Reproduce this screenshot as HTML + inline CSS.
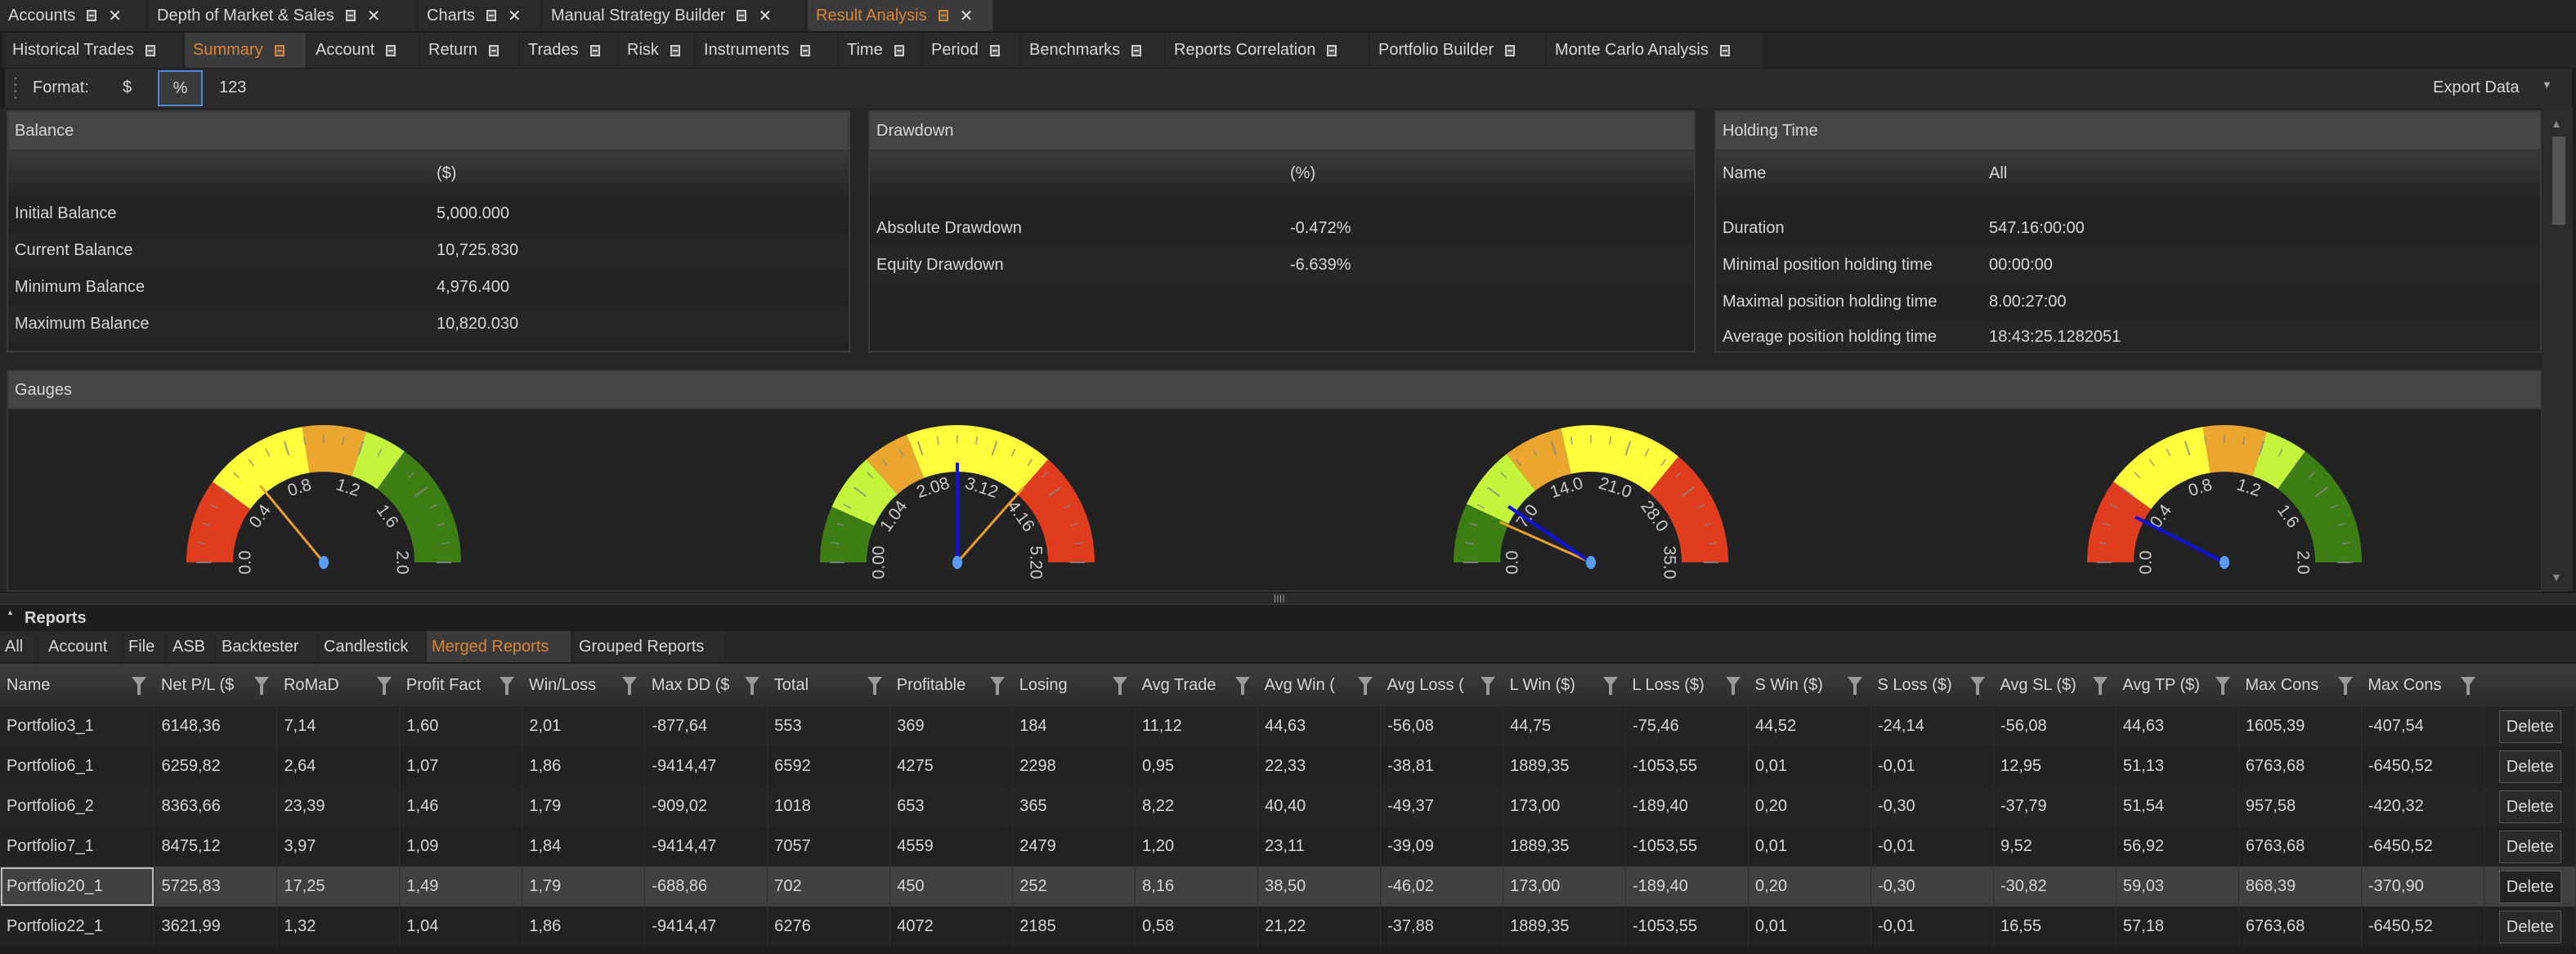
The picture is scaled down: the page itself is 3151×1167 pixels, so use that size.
<!DOCTYPE html>
<html><head><meta charset="utf-8">
<style>
*{box-sizing:border-box;margin:0;padding:0}
body{width:3151px;height:1167px;background:#1c1c1c;font-family:"Liberation Sans",sans-serif;font-size:20px;color:#d6d6d6;position:relative;overflow:hidden}
.a{position:absolute;white-space:nowrap}
.tab{position:absolute;height:100%;background:#2a2a2a;padding-left:10px;display:flex;align-items:center;gap:14px}
.ic{display:inline-block;width:12px;height:14px;border:2px solid #ccc;background:#555;position:relative}
.ic:after{content:"";position:absolute;left:1px;right:1px;top:4px;height:2px;background:#ccc}
.x{font-size:20px;color:#ddd}
.or{color:#d9852f}
.or .ic{border-color:#d9852f}
.or .ic:after{background:#d9852f}
.pan{position:absolute;background:#222;border:2px solid #3a3a3a}
.ph{position:absolute;left:0;right:0;top:0;height:48px;background:#454545;border-bottom:2px solid #333;padding-left:8px;line-height:46px}
.pc{position:absolute;left:0;right:0;top:48px;height:56px;background:linear-gradient(#3a3a3a,#252525)}
.row{position:absolute;left:0;right:0;height:45px;line-height:45px;padding-left:8px}
table{position:absolute;left:0;top:812px;border-collapse:collapse;table-layout:fixed}
td{height:49px;padding-left:8px;border-right:1px solid #2e2e2e;white-space:nowrap;overflow:hidden}
td.d{padding-left:18px}
tr.h td{height:52px;background:linear-gradient(#3d3d3d,#2c2c2c);border-right:none;position:relative}
tr.h td span.f{position:absolute;right:10px;top:16px;width:0;height:0;border-left:9px solid transparent;border-right:9px solid transparent;border-top:12px solid #999}
tr.h td span.f:after{content:"";position:absolute;left:-2px;top:-2px;width:4px;height:12px;background:#999}
tr.r0 td{background:#242424}
tr.r1 td{background:#212121}
tr.sel td{background:#414141}
.del{display:inline-block;width:76px;height:40px;border:1px solid #555;background:#2a2a2a;text-align:center;line-height:38px;color:#ddd}
</style></head><body>
<div class="a" style="left:0;top:0;width:3151px;height:38px;background:#252525">
<div class="tab" style="left:0;width:178px">Accounts <span class="ic"></span><span class="x">✕</span></div>
<div class="tab" style="left:182px;width:326px">Depth of Market &amp; Sales <span class="ic"></span><span class="x">✕</span></div>
<div class="tab" style="left:512px;width:148px">Charts <span class="ic"></span><span class="x">✕</span></div>
<div class="tab" style="left:664px;width:320px">Manual Strategy Builder <span class="ic"></span><span class="x">✕</span></div>
<div class="tab or" style="left:988px;width:226px;background:#3b3b3b">Result Analysis <span class="ic"></span><span class="x">✕</span></div>
</div>
<div class="a" style="left:2px;top:40px;width:3149px;height:43px;background:#242424">
<div class="tab" style="left:3px;width:218px">Historical Trades <span class="ic"></span></div>
<div class="tab or" style="left:224px;width:148px;background:#3b3b3b">Summary <span class="ic"></span></div>
<div class="tab" style="left:374px;width:136px">Account <span class="ic"></span></div>
<div class="tab" style="left:512px;width:120px">Return <span class="ic"></span></div>
<div class="tab" style="left:634px;width:119px">Trades <span class="ic"></span></div>
<div class="tab" style="left:755px;width:92px">Risk <span class="ic"></span></div>
<div class="tab" style="left:849px;width:173px">Instruments <span class="ic"></span></div>
<div class="tab" style="left:1024px;width:101px">Time <span class="ic"></span></div>
<div class="tab" style="left:1127px;width:118px">Period <span class="ic"></span></div>
<div class="tab" style="left:1247px;width:175px">Benchmarks <span class="ic"></span></div>
<div class="tab" style="left:1424px;width:248px">Reports Correlation <span class="ic"></span></div>
<div class="tab" style="left:1674px;width:214px">Portfolio Builder <span class="ic"></span></div>
<div class="tab" style="left:1890px;width:264px">Monte Carlo Analysis <span class="ic"></span></div>
</div>
<div class="a" style="left:6px;top:84px;width:3140px;height:48px;background:#2b2b2b"></div>
<div class="a" style="left:16px;top:92px;color:#aaa;font-size:16px;line-height:8px">·<br>·<br>·<br>·</div>
<div class="a" style="left:40px;top:96px">Format:</div>
<div class="a" style="left:150px;top:96px">$</div>
<div class="a" style="left:193px;top:86px;width:55px;height:44px;border:2px solid #4f86e0;background:#3a3a3a;text-align:center;line-height:40px">%</div>
<div class="a" style="left:268px;top:96px">123</div>
<div class="a" style="left:2976px;top:96px">Export Data</div>
<div class="a" style="left:3109px;top:96px;font-size:13px;color:#aaa">▼</div>
<div class="a" style="left:0;top:132px;width:3112px;height:592px;background:#262626"></div>
<div class="pan" style="left:8px;top:135px;width:1032px;height:296px">
<div class="ph">Balance</div><div class="pc"></div>
<div class="a" style="left:524px;top:64px">($)</div>
<div class="row" style="top:102px">Initial Balance<span class="a" style="left:524px">5,000.000</span></div>
<div class="row" style="top:147px;background:#262626">Current Balance<span class="a" style="left:524px">10,725.830</span></div>
<div class="row" style="top:192px">Minimum Balance<span class="a" style="left:524px">4,976.400</span></div>
<div class="row" style="top:237px;background:#262626">Maximum Balance<span class="a" style="left:524px">10,820.030</span></div>
</div>
<div class="pan" style="left:1062px;top:135px;width:1012px;height:296px">
<div class="ph">Drawdown</div><div class="pc"></div>
<div class="a" style="left:514px;top:64px">(%)</div>
<div class="row" style="top:120px">Absolute Drawdown<span class="a" style="left:514px">-0.472%</span></div>
<div class="row" style="top:165px;background:#262626">Equity Drawdown<span class="a" style="left:514px">-6.639%</span></div>
</div>
<div class="pan" style="left:2097px;top:135px;width:1012px;height:296px">
<div class="ph">Holding Time</div><div class="pc"></div>
<div class="a" style="left:8px;top:64px">Name</div><div class="a" style="left:334px;top:64px">All</div>
<div class="row" style="top:120px">Duration<span class="a" style="left:334px">547.16:00:00</span></div>
<div class="row" style="top:165px;background:#262626">Minimal position holding time<span class="a" style="left:334px">00:00:00</span></div>
<div class="row" style="top:210px">Maximal position holding time<span class="a" style="left:334px">8.00:27:00</span></div>
<div class="row" style="top:255px;background:#262626;height:38px;line-height:40px">Average position holding time<span class="a" style="left:334px">18:43:25.1282051</span></div>
</div>
<div class="a" style="left:3111px;top:132px;width:36px;height:592px;background:#2c2c2c"></div>
<div class="a" style="left:3120px;top:143px;font-size:14px;color:#888">▲</div>
<div class="a" style="left:3122px;top:167px;width:16px;height:108px;background:#555"></div>
<div class="a" style="left:3120px;top:698px;font-size:14px;color:#888">▼</div>
<div class="pan" style="left:8px;top:452px;width:3102px;height:272px;border-color:#333">
<div class="ph" style="height:47px">Gauges</div>
</div>
<svg class="a" style="left:0;top:0" width="3151" height="1167" id="gs">
<g id="g1" transform="translate(396,688)"></g>
<g id="g2" transform="translate(1171,688)"></g>
<g id="g3" transform="translate(1946,688)"></g>
<g id="g4" transform="translate(2721,688)"></g>
</svg>
<div class="a" style="left:0;top:726px;width:3151px;height:14px;background:#2a2a2a;border-top:1px solid #3a3a3a;border-bottom:1px solid #3a3a3a"></div>
<div class="a" style="left:1558px;top:727px;font-size:10px;color:#bbb;letter-spacing:1px">||||</div>
<div class="a" style="left:0;top:741px;width:3151px;height:426px;background:#1e1e1e"></div>
<div class="a" style="left:8px;top:744px;font-size:9px;color:#ccc">▲</div>
<div class="a" style="left:30px;top:745px;font-weight:bold;font-size:20px">Reports</div>
<div class="a" style="left:0;top:772px;width:3151px;height:38px;background:#262626">
<div class="tab" style="left:0;width:44px;padding-left:6px">All</div>
<div class="tab" style="left:49px;width:99px">Account</div>
<div class="tab" style="left:151px;width:50px;padding-left:6px">File</div>
<div class="tab" style="left:205px;width:56px;padding-left:6px">ASB</div>
<div class="tab" style="left:265px;width:123px;padding-left:6px">Backtester</div>
<div class="tab" style="left:390px;width:130px;padding-left:6px">Candlestick</div>
<div class="tab or" style="left:522px;width:176px;background:#3b3b3b;padding-left:6px">Merged Reports</div>
<div class="tab" style="left:702px;width:183px;padding-left:6px">Grouped Reports</div>
</div>
<table>
<colgroup><col style="width:189px"><col span="19" style="width:150px"><col style="width:112px"></colgroup>
<tr class="h"><td>Name<span class="f"></span></td><td>Net P/L ($<span class="f"></span></td><td>RoMaD<span class="f"></span></td><td>Profit Fact<span class="f"></span></td><td>Win/Loss<span class="f"></span></td><td>Max DD ($<span class="f"></span></td><td>Total<span class="f"></span></td><td>Profitable<span class="f"></span></td><td>Losing<span class="f"></span></td><td>Avg Trade<span class="f"></span></td><td>Avg Win (<span class="f"></span></td><td>Avg Loss (<span class="f"></span></td><td>L Win ($)<span class="f"></span></td><td>L Loss ($)<span class="f"></span></td><td>S Win ($)<span class="f"></span></td><td>S Loss ($)<span class="f"></span></td><td>Avg SL ($)<span class="f"></span></td><td>Avg TP ($)<span class="f"></span></td><td>Max Cons<span class="f"></span></td><td>Max Cons<span class="f"></span></td><td></td></tr>
<tr class="r0"><td>Portfolio3_1</td><td>6148,36</td><td>7,14</td><td>1,60</td><td>2,01</td><td>-877,64</td><td>553</td><td>369</td><td>184</td><td>11,12</td><td>44,63</td><td>-56,08</td><td>44,75</td><td>-75,46</td><td>44,52</td><td>-24,14</td><td>-56,08</td><td>44,63</td><td>1605,39</td><td>-407,54</td><td class="d"><span class="del">Delete</span></td></tr>
<tr class="r1"><td>Portfolio6_1</td><td>6259,82</td><td>2,64</td><td>1,07</td><td>1,86</td><td>-9414,47</td><td>6592</td><td>4275</td><td>2298</td><td>0,95</td><td>22,33</td><td>-38,81</td><td>1889,35</td><td>-1053,55</td><td>0,01</td><td>-0,01</td><td>12,95</td><td>51,13</td><td>6763,68</td><td>-6450,52</td><td class="d"><span class="del">Delete</span></td></tr>
<tr class="r0"><td>Portfolio6_2</td><td>8363,66</td><td>23,39</td><td>1,46</td><td>1,79</td><td>-909,02</td><td>1018</td><td>653</td><td>365</td><td>8,22</td><td>40,40</td><td>-49,37</td><td>173,00</td><td>-189,40</td><td>0,20</td><td>-0,30</td><td>-37,79</td><td>51,54</td><td>957,58</td><td>-420,32</td><td class="d"><span class="del">Delete</span></td></tr>
<tr class="r1"><td>Portfolio7_1</td><td>8475,12</td><td>3,97</td><td>1,09</td><td>1,84</td><td>-9414,47</td><td>7057</td><td>4559</td><td>2479</td><td>1,20</td><td>23,11</td><td>-39,09</td><td>1889,35</td><td>-1053,55</td><td>0,01</td><td>-0,01</td><td>9,52</td><td>56,92</td><td>6763,68</td><td>-6450,52</td><td class="d"><span class="del">Delete</span></td></tr>
<tr class="sel"><td style="outline:2px solid #bbb;outline-offset:-3px">Portfolio20_1</td><td>5725,83</td><td>17,25</td><td>1,49</td><td>1,79</td><td>-688,86</td><td>702</td><td>450</td><td>252</td><td>8,16</td><td>38,50</td><td>-46,02</td><td>173,00</td><td>-189,40</td><td>0,20</td><td>-0,30</td><td>-30,82</td><td>59,03</td><td>868,39</td><td>-370,90</td><td class="d"><span class="del" style="background:#222">Delete</span></td></tr>
<tr class="r1"><td>Portfolio22_1</td><td>3621,99</td><td>1,32</td><td>1,04</td><td>1,86</td><td>-9414,47</td><td>6276</td><td>4072</td><td>2185</td><td>0,58</td><td>21,22</td><td>-37,88</td><td>1889,35</td><td>-1053,55</td><td>0,01</td><td>-0,01</td><td>16,55</td><td>57,18</td><td>6763,68</td><td>-6450,52</td><td class="d"><span class="del">Delete</span></td></tr>
</table>
<script>
var C={r:"#e03c1e",y:"#fdfd3c",o:"#eaa62e",l:"#c2f53c",g:"#3e7c14"};
var cfg=[
 {bands:[[0,.2,"r"],[.2,.45,"y"],[.45,.6,"o"],[.6,.7,"l"],[.7,1,"g"]],needles:[[.28,"#e8a02a",3]],labels:["0.0","0.4","0.8","1.2","1.6","2.0"]},
 {bands:[[0,.133,"g"],[.133,.27,"l"],[.27,.38,"o"],[.38,.73,"y"],[.73,1,"r"]],needles:[[.5,"#1010e0",4],[.73,"#e8a02a",3]],labels:["0.00","1.04","2.08","3.12","4.16","5.20"]},
 {bands:[[0,.14,"g"],[.14,.29,"l"],[.29,.43,"o"],[.43,.72,"y"],[.72,1,"r"]],needles:[[.133,"#e8a02a",3],[.19,"#1010e0",4]],labels:["0.0","7.0","14.0","21.0","28.0","35.0"]},
 {bands:[[0,.2,"r"],[.2,.45,"y"],[.45,.6,"o"],[.6,.7,"l"],[.7,1,"g"]],needles:[[.15,"#1010e0",4]],labels:["0.0","0.4","0.8","1.2","1.6","2.0"]}
];
var NS="http://www.w3.org/2000/svg";
function el(t,a,p){var e=document.createElementNS(NS,t);for(var k in a)e.setAttribute(k,a[k]);p.appendChild(e);return e;}
function pt(f,r){var a=Math.PI*(1-f);return [r*Math.cos(a),-r*Math.sin(a)];}
cfg.forEach(function(c,i){
 var g=document.getElementById("g"+(i+1)),R1=111,R2=168;
 c.bands.forEach(function(b){
  var p1=pt(b[0],R2),p2=pt(b[1],R2),p3=pt(b[1],R1),p4=pt(b[0],R1);
  el("path",{d:"M"+p1+" A"+R2+","+R2+" 0 0 1 "+p2+" L"+p3+" A"+R1+","+R1+" 0 0 0 "+p4+"Z",fill:C[b[2]]},g);
 });
 for(var k=0;k<=20;k++){var f=k/20,maj=k%4==0;var a=pt(f,maj?138:146),b=pt(f,156);
  el("line",{x1:a[0],y1:a[1],x2:b[0],y2:b[1],stroke:"#888","stroke-width":maj?2:1.5,"stroke-opacity":0.8},g);}
 c.labels.forEach(function(s,j){var f=j/5,p=pt(f,96),rot=-90+180*f;
  var t=el("text",{transform:"translate("+p[0]+","+p[1]+") rotate("+rot+")","text-anchor":"middle","dominant-baseline":"central",fill:"#c8c8c8","font-size":"21","font-family":"Liberation Sans, sans-serif"},g);t.textContent=s;});
 c.needles.forEach(function(n){var p=pt(n[0],122);el("line",{x1:0,y1:0,x2:p[0],y2:p[1],stroke:n[1],"stroke-width":n[2]},g);});
 el("ellipse",{cx:0,cy:0,rx:6,ry:8,fill:"#5a9cf5"},g);
});
</script>
</body></html>
